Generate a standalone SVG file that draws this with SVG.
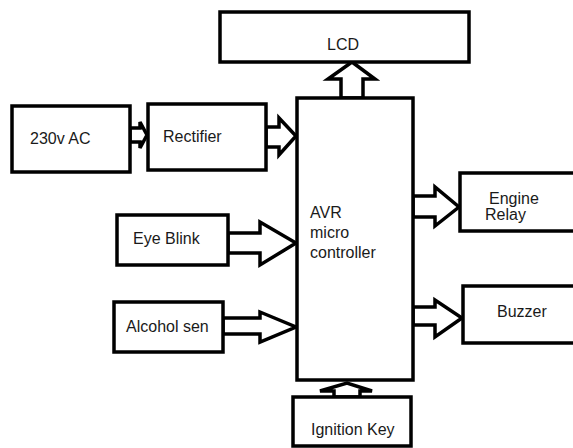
<svg xmlns="http://www.w3.org/2000/svg" width="573" height="448" viewBox="0 0 573 448">
<style>
.box{fill:#fff;stroke:#000;stroke-width:3.5}
.arr{fill:#fff;stroke:#000;stroke-width:3.5;stroke-linejoin:miter}
text{font-family:"Liberation Sans",Arial,sans-serif;font-size:16px;fill:#1a1a1a}
</style>
<rect width="573" height="448" fill="#fff"/>
<g id="connectors">
<polygon class="arr" points="130,128 140,128 140,122 147,135 140,148 140,142 130,142"/>
<polygon class="arr" points="266,127 279,127 279,118 296,136 279,155 279,147 266,147"/>
<polygon class="arr" points="228,233 260,233 260,222 296,243 260,265 260,253 228,253"/>
<polygon class="arr" points="223,318 260,318 260,312 296,327 260,342 260,334 223,334"/>
<polygon class="arr" points="413,196 435,196 435,187 459,207 435,226 435,217 413,217"/>
<polygon class="arr" points="413,307 435,307 435,300 462,318 435,337 435,325 413,325"/>
<polygon class="arr" points="341,98 341,79 328,79 352,62 375,79 363,79 363,98"/>
<polygon class="arr" points="334,397 334,391 320,391 347,383 372,391 360,391 360,397"/>
</g>
<g id="lcd"><rect class="box" x="220" y="12" width="249" height="50"/><text x="327" y="50">LCD</text></g>
<g id="ac"><rect class="box" x="12" y="106" width="118" height="66"/><text x="30" y="144">230v AC</text></g>
<g id="rectifier"><rect class="box" x="148" y="104" width="118" height="66"/><text x="163" y="142">Rectifier</text></g>
<g id="mcu"><rect class="box" x="297" y="98" width="116" height="282"/><text x="310" y="218">AVR</text><text x="310" y="238">micro</text><text x="310" y="258">controller</text></g>
<g id="eyeblink"><rect class="box" x="117" y="215" width="111" height="50"/><text x="133" y="244">Eye Blink</text></g>
<g id="alcohol"><rect class="box" x="114" y="302" width="109" height="50"/><text x="126" y="332">Alcohol sen</text></g>
<g id="engine"><rect class="box" x="460" y="173" width="125" height="58"/><text x="489" y="204">Engine</text><text x="485" y="220">Relay</text></g>
<g id="buzzer"><rect class="box" x="463" y="286" width="125" height="57"/><text x="497" y="317">Buzzer</text></g>
<g id="ignition"><rect class="box" x="293" y="397" width="118" height="49"/><text x="311" y="435">Ignition Key</text></g>
</svg>
